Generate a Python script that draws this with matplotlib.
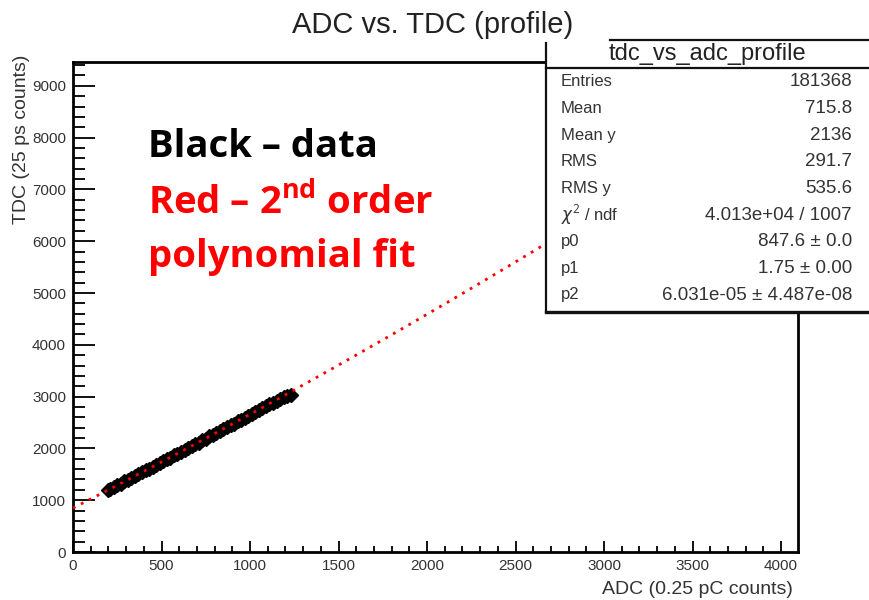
import numpy as np
import matplotlib.pyplot as plt
from matplotlib.patches import Rectangle
from matplotlib.lines import Line2D

plt.rcParams['font.family'] = ['Liberation Sans', 'DejaVu Sans']
plt.rcParams['mathtext.fontset'] = 'custom'
plt.rcParams['mathtext.rm'] = 'Open Sans'
plt.rcParams['mathtext.bf'] = 'Open Sans:bold'

# profile points: mean TDC per ADC bin
adc = [195, 210, 230, 250, 270, 290, 310, 330, 350, 370, 390, 410, 430, 450,
       470, 490, 510, 530, 550, 570, 590, 610, 630, 650, 670, 690, 710, 730,
       750, 770, 790, 810, 830, 850, 870, 890, 910, 930, 950, 970, 990, 1010,
       1030, 1050, 1070, 1090, 1110, 1130, 1150, 1170, 1190, 1210, 1230]
tdc = [1195, 1215, 1250, 1290, 1320, 1362, 1390, 1435, 1462, 1505, 1535, 1578,
       1605, 1650, 1678, 1722, 1750, 1795, 1822, 1868, 1895, 1940, 1968, 2012,
       2040, 2086, 2114, 2158, 2186, 2232, 2260, 2305, 2334, 2378, 2408, 2450,
       2480, 2522, 2555, 2596, 2630, 2670, 2702, 2744, 2775, 2815, 2848, 2885,
       2918, 2955, 2985, 3010, 3035]

# pol2 fit parameters
p0, p1, p2 = 847.6, 1.75, 6.031e-05

stat_names = ['Entries', 'Mean', 'Mean y', 'RMS', 'RMS y',
              r'$\chi^{2}$ / ndf', 'p0', 'p1', 'p2']
stat_values = ['181368', '715.8', '2136', '291.7', '535.6',
               '4.013e+04 / 1007', '847.6 \u00b1 0.0', '1.75 \u00b1 0.00',
               '6.031e-05 \u00b1 4.487e-08']

W, H = 869, 600
fig = plt.figure(figsize=(W / 100, H / 100), dpi=100)


def fx(px):
    return px / W


def fy(py):
    return 1 - py / H


ax = fig.add_axes([fx(73), fy(552), fx(798) - fx(73), fy(62) - fy(552)])
ax.set_xlim(0, 4096)
ax.set_ylim(0, 9460)

ax.plot(adc, tdc, 'D', color='black', ms=7.5, zorder=3)

xf = np.linspace(0, 4096, 800)
ax.plot(xf, p0 + p1 * xf + p2 * xf ** 2, color='red', lw=2,
        ls=(0, (1, 2.2)), zorder=4)

ax.set_xticks(np.arange(0, 4001, 500))
ax.set_xticks(np.arange(0, 4096, 100), minor=True)
ax.set_yticks(np.arange(0, 9001, 1000))
ax.set_yticks(np.arange(0, 9460, 200), minor=True)
ax.tick_params(which='both', direction='in', color='#111', width=1.4,
               top=False, right=False)
ax.tick_params(which='major', labelsize=11, labelcolor='#333')
ax.tick_params(axis='x', which='major', length=8, pad=5)
ax.tick_params(axis='x', which='minor', length=4.5)
ax.tick_params(axis='y', which='major', length=16, pad=5)
ax.tick_params(axis='y', which='minor', length=8.5)
for s in ax.spines.values():
    s.set_linewidth(2)

fig.text(fx(433), fy(25), 'ADC vs. TDC (profile)', ha='center', va='center',
         fontsize=21, color='#222')
fig.text(fx(793), fy(590), 'ADC (0.25 pC counts)', ha='right', va='center',
         fontsize=14, color='#333')
fig.text(fx(22), fy(55), 'TDC (25 ps counts)', ha='center', va='top',
         rotation=90, fontsize=14, color='#333')

# annotation
note = dict(fontsize=27.5, fontweight='bold', family='Open Sans', va='baseline')
fig.text(fx(148), fy(157), 'Black \u2013 data', color='black', **note)
fig.text(fx(148), fy(213), 'Red \u2013 2$^{\\mathbf{nd}}$ order', color='red',
         **note)
fig.text(fx(148), fy(267), 'polynomial fit', color='red', **note)

# statistics box
fig.add_artist(Rectangle((fx(546), fy(312)), 1.1 - fx(546), fy(40) - fy(312),
                         transform=fig.transFigure, facecolor='white',
                         edgecolor='none', zorder=10, clip_on=False))
box_lines = [
    ([546, 546], [43, 312], 1.6),
    ([546, 880], [312, 312], 2.4),
    ([610, 880], [40, 40], 1.6),
    ([546, 880], [68, 68], 1.6),
]
for xs, ys, lw in box_lines:
    fig.add_artist(Line2D([fx(v) for v in xs], [fy(v) for v in ys],
                          transform=fig.transFigure, color='#111', lw=lw,
                          zorder=11))
fig.text(fx(707), fy(54), 'tdc_vs_adc_profile', ha='center', va='center',
         fontsize=17, color='#222', zorder=12)
row_y = np.linspace(82, 295, len(stat_names))
for name, val, y in zip(stat_names, stat_values, row_y):
    fig.text(fx(561), fy(y), name, ha='left', va='center', fontsize=12,
             color='#333', zorder=12)
    fig.text(fx(852), fy(y), val, ha='right', va='center', fontsize=13.5,
             color='#333', zorder=12)

fig.savefig('out.png', dpi=100)
